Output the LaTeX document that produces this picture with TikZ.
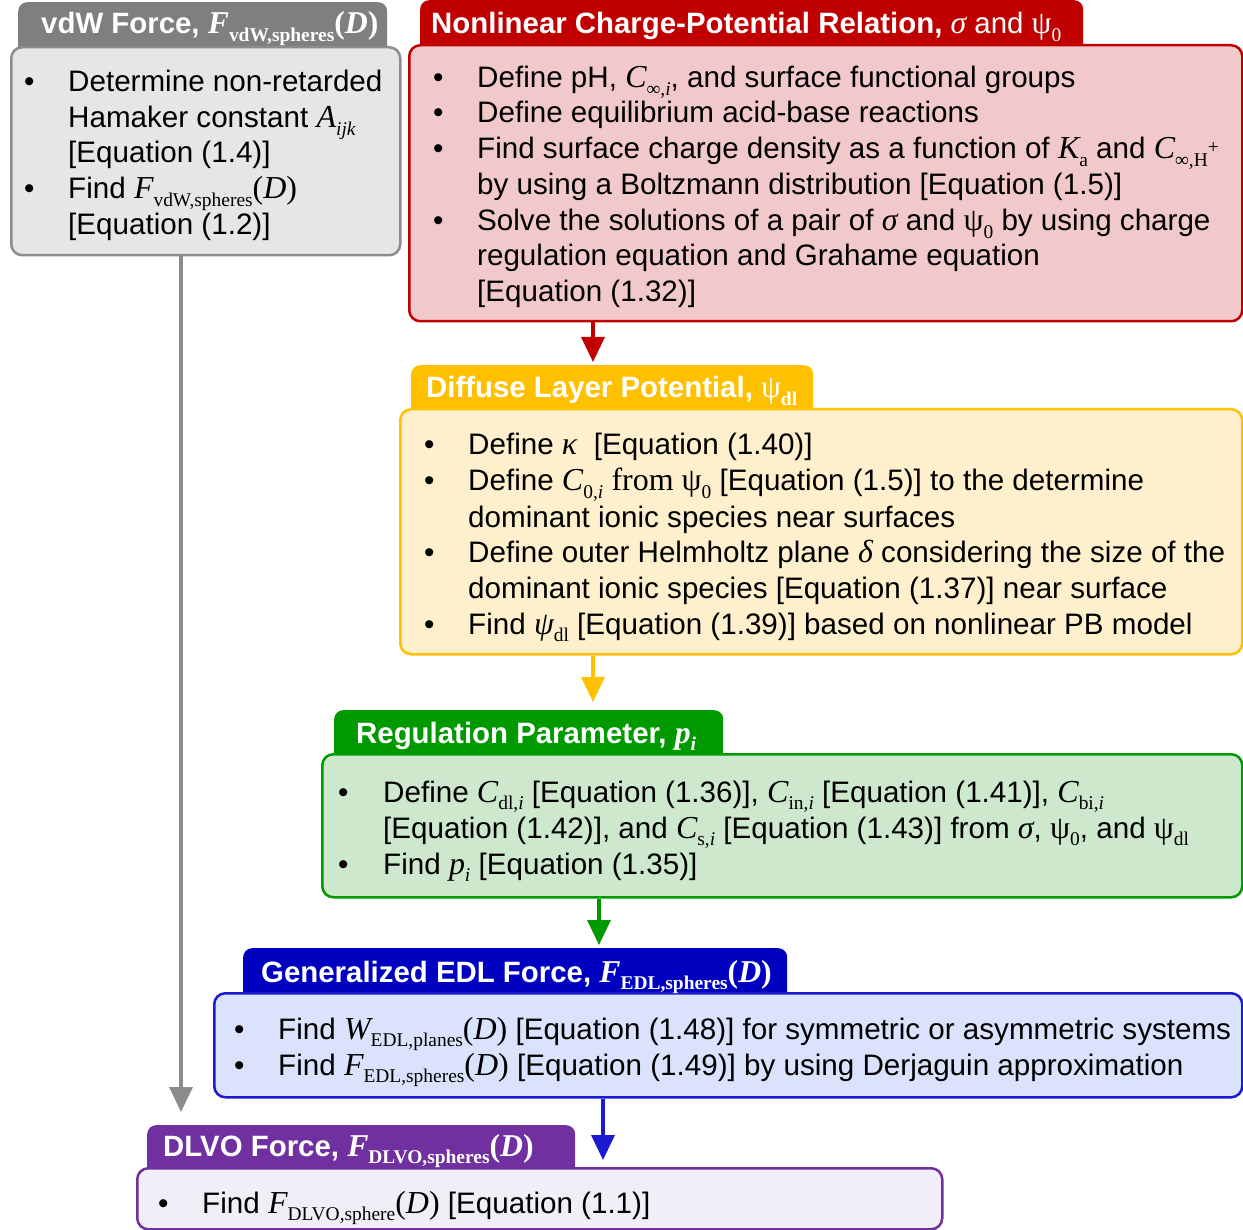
\documentclass[tikz,border=0pt]{standalone}
\usepackage{fontspec}
\setmainfont{Liberation Sans}
\newfontfamily\tmf[Scale=1.08]{Liberation Serif}
\usetikzlibrary{arrows.meta}
\definecolor{gtab}{HTML}{7F7F7F}
\definecolor{gfill}{HTML}{E6E6E6}
\definecolor{gline}{HTML}{8C8C8C}
\definecolor{rtab}{HTML}{C00000}
\definecolor{rfill}{HTML}{F2C9CB}
\definecolor{ytab}{HTML}{FFC000}
\definecolor{yfill}{HTML}{FEF0CC}
\definecolor{gntab}{HTML}{009900}
\definecolor{gnfill}{HTML}{CDE8CD}
\definecolor{btab}{HTML}{0000C0}
\definecolor{bline}{HTML}{1A1AD0}
\definecolor{bfill}{HTML}{DAE3FB}
\definecolor{ptab}{HTML}{7030A0}
\definecolor{pfill}{HTML}{F2EEF8}
\newcommand\vi[1]{{\tmf\itshape #1}}
\newcommand\vr[1]{{\tmf #1}}
\newcommand\sbs[1]{\raisebox{-0.24em}{\fontsize{18}{18}\selectfont\tmf #1}}
\tikzset{
  tab/.style={rounded corners=9pt, inner sep=0pt, anchor=north west},
  box/.style={rounded corners=11pt, line width=2.5pt, inner sep=0pt, anchor=north west},
  ttl/.style={anchor=base west, text=white, inner sep=0pt, font=\fontsize{29.4}{35}\selectfont\bfseries},
  ln/.style={anchor=base west, inner sep=0pt, font=\fontsize{29.6}{35}\selectfont},
  arr/.style={line width=3.5pt, -{Triangle[width=23pt,length=25pt]}},
}
\begin{document}
\begin{tikzpicture}[x=1pt,y=-1pt]
\useasboundingbox (0,0) rectangle (1243,1230);

% ---------- vdW (gray)
\node[tab, fill=gtab, minimum width=369pt, minimum height=56pt] (t1) at (18,2) {};
\node[box, draw=gline, fill=gfill, minimum width=389pt, minimum height=208pt] (b1) at (10,46) {};
\node[ttl] (h1) at (41,34) {vdW Force, \vi{F}\sbs{vdW,spheres}\vr{(}\vi{D}\vr{)}};
\node[ln] (u1a) at (24,92) {•};
\node[ln] (l1a) at (68,92) {Determine non-retarded};
\node[ln] (l1b) at (68,128) {Hamaker constant \vi{A}\sbs{\itshape ijk}};
\node[ln] (l1c) at (68,163) {[Equation (1.4)]};
\node[ln] (u1b) at (24,199) {•};
\node[ln] (l1d) at (68,199) {Find \vi{F}\sbs{vdW,spheres}\vr{(}\vi{D}\vr{)}};
\node[ln] (l1e) at (68,235) {[Equation (1.2)]};

% ---------- Nonlinear (red)
\node[tab, fill=rtab, minimum width=663pt, minimum height=54pt] (t2) at (420,0) {};
\node[box, draw=rtab, fill=rfill, minimum width=833pt, minimum height=276pt] (b2) at (408,44) {};
\node[ttl] (h2) at (431,34) {Nonlinear Charge-Potential Relation, {\mdseries\vi{σ} and \vr{ψ}\sbs{0}}};
\node[ln] (u2a) at (433,88) {•};
\node[ln] (l2a) at (477,88) {Define pH, \vi{C}\sbs{∞,{\itshape i}}, and surface functional groups};
\node[ln] (u2b) at (433,123) {•};
\node[ln] (l2b) at (477,123) {Define equilibrium acid-base reactions};
\node[ln] (u2c) at (433,159) {•};
\node[ln] (l2c) at (477,159) {Find surface charge density as a function of \vi{K}\sbs{a} and \vi{C}\sbs{∞,H\raisebox{0.65em}{+}}};
\node[ln] (l2d) at (477,195) {by using a Boltzmann distribution [Equation (1.5)]};
\node[ln] (u2e) at (433,231) {•};
\node[ln] (l2e) at (477,231) {Solve the solutions of a pair of \vi{σ} and \vr{ψ}\sbs{0} by using charge};
\node[ln] (l2f) at (477,266) {regulation equation and Grahame equation};
\node[ln] (l2g) at (477,302) {[Equation (1.32)]};

% ---------- Diffuse layer (yellow)
\node[tab, fill=ytab, minimum width=402pt, minimum height=53pt] (t3) at (411,365) {};
\node[box, draw=ytab, fill=yfill, minimum width=842pt, minimum height=245pt] (b3) at (399,408) {};
\node[ttl] (h3) at (426,398) {Diffuse Layer Potential, {\mdseries\vr{ψ}}\sbs{dl}};
\node[ln] (u3a) at (424,455) {•};
\node[ln] (l3a) at (468,455) {Define \vi{κ}\ \ [Equation (1.40)]};
\node[ln] (u3b) at (424,491) {•};
\node[ln] (l3b) at (468,491) {Define \vi{C}\sbs{0,{\itshape i}} \vr{from ψ}\sbs{0} [Equation (1.5)] to the determine};
\node[ln] (l3c) at (468,527) {dominant ionic species near surfaces};
\node[ln] (u3d) at (424,562) {•};
\node[ln] (l3d) at (468,562) {Define outer Helmholtz plane \vi{δ} considering the size of the};
\node[ln] (l3e) at (468,598) {dominant ionic species [Equation (1.37)] near surface};
\node[ln] (u3f) at (424,634) {•};
\node[ln] (l3f) at (468,634) {Find \vi{ψ}\sbs{dl} [Equation (1.39)] based on nonlinear PB model};

% ---------- Regulation (green)
\node[tab, fill=gntab, minimum width=389pt, minimum height=53pt] (t4) at (334,710) {};
\node[box, draw=gntab, fill=gnfill, minimum width=920pt, minimum height=143pt] (b4) at (321,753) {};
\node[ttl] (h4) at (356,743) {Regulation Parameter, \vi{p}\sbs{\itshape i}};
\node[ln] (u4a) at (338,802) {•};
\node[ln] (l4a) at (383,802) {Define \vi{C}\sbs{dl,{\itshape i}} [Equation (1.36)], \vi{C}\sbs{in,{\itshape i}} [Equation (1.41)], \vi{C}\sbs{bi,{\itshape i}}};
\node[ln] (l4b) at (383,838) {[Equation (1.42)], and \vi{C}\sbs{s,{\itshape i}} [Equation (1.43)] from \vi{σ}, \vr{ψ}\sbs{0}, and \vr{ψ}\sbs{dl}};
\node[ln] (u4c) at (338,874) {•};
\node[ln] (l4c) at (383,874) {Find \vi{p}\sbs{\itshape i} [Equation (1.35)]};

% ---------- EDL (blue)
\node[tab, fill=btab, minimum width=544pt, minimum height=54pt] (t5) at (243,948) {};
\node[box, draw=bline, fill=bfill, minimum width=1028pt, minimum height=104pt] (b5) at (213,992) {};
\node[ttl] (h5) at (261,982) {Generalized EDL Force, \vi{F}\sbs{EDL,spheres}\vr{(}\vi{D}\vr{)}};
\node[ln] (u5a) at (234,1039) {•};
\node[ln] (l5a) at (278,1039) {Find \vi{W}\sbs{EDL,planes}\vr{(}\vi{D}\vr{)} [Equation (1.48)] for symmetric or asymmetric systems};
\node[ln] (u5b) at (234,1075) {•};
\node[ln] (l5b) at (278,1075) {Find \vi{F}\sbs{EDL,spheres}\vr{(}\vi{D}\vr{)} [Equation (1.49)] by using Derjaguin approximation};

% ---------- DLVO (purple)
\node[tab, fill=ptab, minimum width=428pt, minimum height=52pt] (t6) at (147,1125) {};
\node[box, draw=ptab, fill=pfill, minimum width=805pt, minimum height=61pt] (b6) at (136,1167) {};
\node[ttl] (h6) at (163,1156) {DLVO Force, \vi{F}\sbs{DLVO,spheres}\vr{(}\vi{D}\vr{)}};
\node[ln] (u6a) at (158,1213) {•};
\node[ln] (l6a) at (202,1213) {Find \vi{F}\sbs{DLVO,sphere}\vr{(}\vi{D}\vr{)} [Equation (1.1)]};

% ---------- arrows
\coordinate (e1) at (181,1112);
\coordinate (e2) at (593,362);
\coordinate (e3) at (593,702);
\coordinate (e4) at (599,945);
\coordinate (e5) at (603,1160);
\draw[arr, draw=gline, fill=gline] (b1.south -| e1) -- (e1);
\draw[arr, draw=rtab, fill=rtab] (b2.south -| e2) -- (e2);
\draw[arr, draw=ytab, fill=ytab] (b3.south -| e3) -- (e3);
\draw[arr, draw=gntab, fill=gntab] (b4.south -| e4) -- (e4);
\draw[arr, draw=bline, fill=bline] (b5.south -| e5) -- (e5);
\end{tikzpicture}
\end{document}
